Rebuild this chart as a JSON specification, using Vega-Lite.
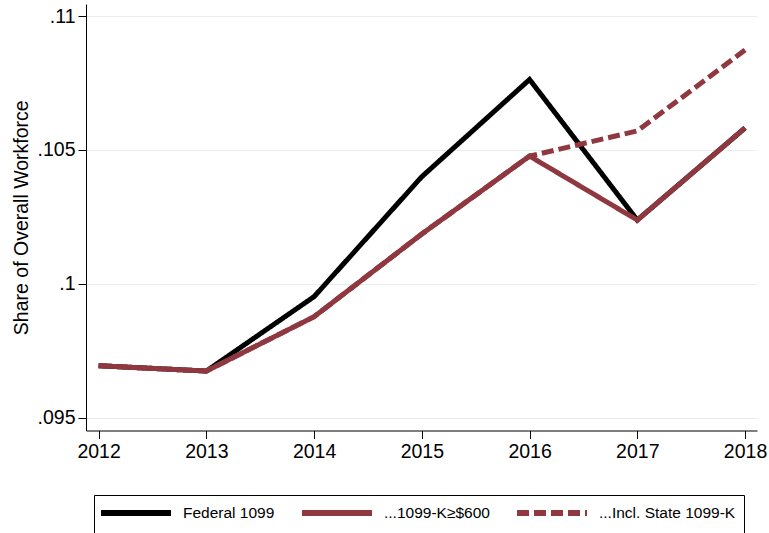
{
  "$schema": "https://vega.github.io/schema/vega-lite/v6.json",
  "autosize": "none",
  "width": 671,
  "height": 426.5,
  "padding": {"left": 86, "top": 4, "right": 12, "bottom": 102.5},
  "background": "white",
  "data": {
    "values": [
      {"series": "Federal 1099", "year": 2012, "value": 0.09694},
      {"series": "Federal 1099", "year": 2013, "value": 0.09674},
      {"series": "Federal 1099", "year": 2014, "value": 0.09952},
      {"series": "Federal 1099", "year": 2015, "value": 0.10400},
      {"series": "Federal 1099", "year": 2016, "value": 0.10763},
      {"series": "Federal 1099", "year": 2017, "value": 0.10238},
      {"series": "Federal 1099", "year": 2018, "value": 0.10582},
      {"series": "...1099-K≥$600", "year": 2012, "value": 0.09694},
      {"series": "...1099-K≥$600", "year": 2013, "value": 0.09674},
      {"series": "...1099-K≥$600", "year": 2014, "value": 0.09877},
      {"series": "...1099-K≥$600", "year": 2015, "value": 0.10186},
      {"series": "...1099-K≥$600", "year": 2016, "value": 0.10477},
      {"series": "...1099-K≥$600", "year": 2017, "value": 0.10238},
      {"series": "...1099-K≥$600", "year": 2018, "value": 0.10582},
      {"series": "...Incl. State 1099-K", "year": 2012, "value": 0.09694},
      {"series": "...Incl. State 1099-K", "year": 2013, "value": 0.09674},
      {"series": "...Incl. State 1099-K", "year": 2014, "value": 0.09877},
      {"series": "...Incl. State 1099-K", "year": 2015, "value": 0.10186},
      {"series": "...Incl. State 1099-K", "year": 2016, "value": 0.10477},
      {"series": "...Incl. State 1099-K", "year": 2017, "value": 0.10571},
      {"series": "...Incl. State 1099-K", "year": 2018, "value": 0.10873}
    ]
  },
  "mark": {"type": "line", "strokeWidth": 5, "clip": true},
  "encoding": {
    "x": {
      "field": "year",
      "type": "quantitative",
      "scale": {"domain": [2011.883, 2018.111], "nice": false, "zero": false},
      "axis": {
        "values": [2012, 2013, 2014, 2015, 2016, 2017, 2018],
        "format": "d",
        "title": null,
        "grid": false,
        "labelPadding": 4,
        "labelFlush": false
      }
    },
    "y": {
      "field": "value",
      "type": "quantitative",
      "scale": {"domain": [0.09452, 0.11045], "nice": false, "zero": false},
      "axis": {
        "values": [0.095, 0.1, 0.105, 0.11],
        "labelExpr": "substring(format(datum.value, '.3~f'), 1)",
        "title": "Share of Overall Workforce",
        "grid": true,
        "titlePadding": 6,
        "labelPadding": 3
      }
    },
    "color": {
      "field": "series",
      "type": "nominal",
      "scale": {
        "domain": ["Federal 1099", "...1099-K≥$600", "...Incl. State 1099-K"],
        "range": ["#000000", "#903840", "#903840"]
      },
      "legend": {
        "title": null,
        "orient": "none",
        "legendX": 8,
        "legendY": 491,
        "direction": "horizontal",
        "columns": 3
      }
    },
    "strokeDash": {
      "field": "series",
      "type": "nominal",
      "scale": {
        "domain": ["Federal 1099", "...1099-K≥$600", "...Incl. State 1099-K"],
        "range": [[1, 0], [1, 0], [12, 5]]
      },
      "legend": {
        "title": null,
        "orient": "none",
        "legendX": 8,
        "legendY": 491,
        "direction": "horizontal",
        "columns": 3
      }
    }
  },
  "config": {
    "view": {"stroke": null},
    "font": "Liberation Sans",
    "axis": {
      "labelFont": "Liberation Sans",
      "labelFontSize": 19.5,
      "labelColor": "#000000",
      "titleFont": "Liberation Sans",
      "titleFontSize": 19.5,
      "titleFontWeight": "normal",
      "titleColor": "#000000",
      "domainColor": "#000000",
      "domainWidth": 1,
      "tickColor": "#000000",
      "tickSize": 8,
      "tickWidth": 1,
      "gridColor": "#e6eef1",
      "gridWidth": 1
    },
    "legend": {
      "symbolType": "M-1.571,0H8.429",
      "symbolSize": 196,
      "symbolStrokeWidth": 6,
      "labelFont": "Liberation Sans",
      "labelFontSize": 15.5,
      "labelColor": "#000000",
      "labelOffset": 61,
      "columnPadding": 15,
      "padding": 8,
      "strokeColor": "#000000",
      "strokeWidth": 1,
      "fillColor": "#ffffff",
      "labelLimit": 400
    }
  }
}
